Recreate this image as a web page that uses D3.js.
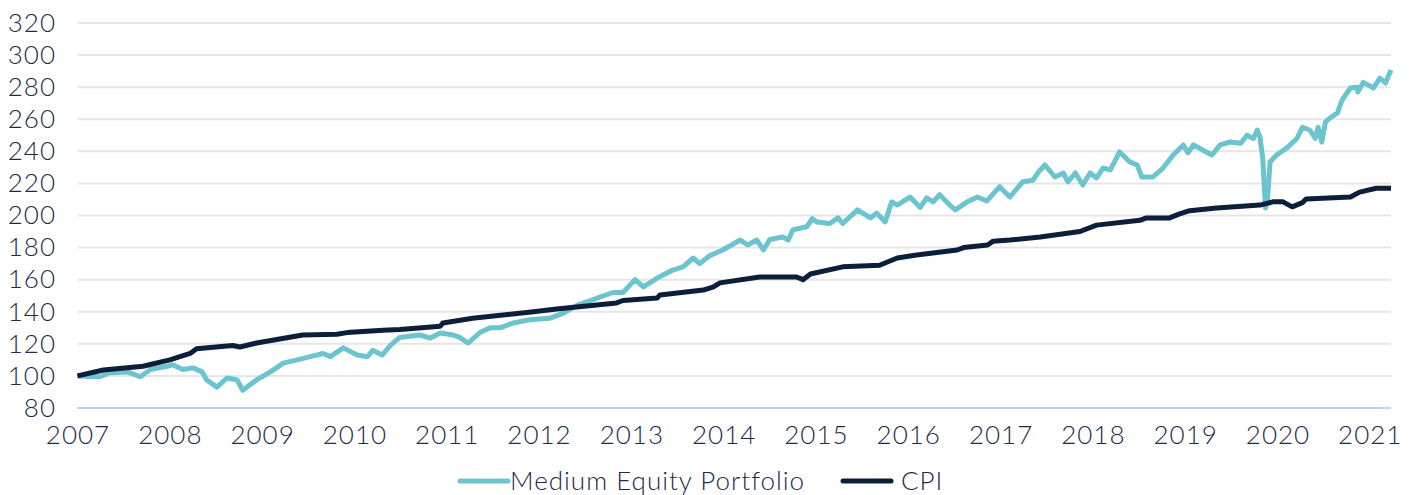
<!DOCTYPE html>
<html>
<head>
<meta charset="utf-8">
<script src="https://cdn.jsdelivr.net/npm/d3@7"></script>
<style>
  body { margin: 0; background: #ffffff; }
  svg text { font-family: Lato, "Open Sans", sans-serif; font-weight: 300; letter-spacing: 1px; fill: #1b2b48; }
</style>
</head>
<body>
<svg id="chart" width="1416" height="495"></svg>
<script>
// Axis ticks
const yTicks = [80, 100, 120, 140, 160, 180, 200, 220, 240, 260, 280, 300, 320];
const xTicks = [2007, 2008, 2009, 2010, 2011, 2012, 2013, 2014, 2015, 2016, 2017, 2018, 2019, 2020, 2021];

// Medium Equity Portfolio (decimal year, index value)
const portfolioYears = [
  2007.00, 2007.24, 2007.35, 2007.54, 2007.68, 2007.79, 2007.97, 2008.03, 2008.14, 2008.25,
  2008.35, 2008.40, 2008.51, 2008.62, 2008.73, 2008.79, 2008.94, 2009.09, 2009.23, 2009.38,
  2009.52, 2009.66, 2009.74, 2009.88, 2010.03, 2010.14, 2010.20, 2010.30, 2010.39, 2010.49,
  2010.71, 2010.82, 2010.93, 2011.07, 2011.14, 2011.23, 2011.36, 2011.47, 2011.58, 2011.72,
  2011.90, 2012.12, 2012.26, 2012.41, 2012.63, 2012.80, 2012.91, 2013.04, 2013.13, 2013.28,
  2013.45, 2013.56, 2013.67, 2013.74, 2013.85, 2013.99, 2014.18, 2014.26, 2014.36, 2014.43,
  2014.50, 2014.64, 2014.70, 2014.75, 2014.90, 2014.96, 2015.01, 2015.15, 2015.24, 2015.29,
  2015.45, 2015.59, 2015.66, 2015.75, 2015.82, 2015.88, 2016.02, 2016.13, 2016.20, 2016.27,
  2016.34, 2016.45, 2016.51, 2016.64, 2016.75, 2016.85, 2016.99, 2017.10, 2017.24, 2017.35,
  2017.41, 2017.48, 2017.59, 2017.68, 2017.73, 2017.81, 2017.89, 2017.97, 2018.04, 2018.11,
  2018.19, 2018.29, 2018.40, 2018.48, 2018.53, 2018.65, 2018.76, 2018.87, 2018.98, 2019.03,
  2019.09, 2019.19, 2019.29, 2019.38, 2019.49, 2019.60, 2019.67, 2019.74, 2019.78, 2019.81,
  2019.84, 2019.87, 2019.89, 2019.92, 2019.99, 2020.10, 2020.21, 2020.27, 2020.35, 2020.41,
  2020.44, 2020.48, 2020.52, 2020.57, 2020.65, 2020.70, 2020.79, 2020.86, 2020.87, 2020.93,
  2021.04, 2021.11, 2021.17, 2021.23
];
const portfolioValues = [
  100, 99.5, 102, 102.5, 99.5, 104, 106, 107, 104, 105,
  102.5, 97.5, 93, 98.7, 97.5, 91, 97.5, 102.5, 108, 110,
  112, 114, 112, 117.5, 113, 112, 116, 113, 119, 124,
  125.5, 123.6, 126.8, 125.5, 124, 120.5, 127, 130, 130, 133,
  135, 136, 139, 144, 148.5, 152, 152, 160, 155.5, 161,
  166, 168, 173.5, 170, 175, 178.5, 184.7, 181.6, 184.7, 178.5,
  185, 186.6, 184.7, 191, 193, 198, 196, 195, 198.5, 195,
  203.5, 198.5, 201.5, 196, 208.5, 206.5, 211.5, 205, 211, 208.5,
  213, 206.5, 203.5, 208.5, 211.5, 209, 218, 211.5, 221, 222,
  227, 231.5, 224, 226.5, 221, 226.5, 219, 226.5, 223.4, 229.6,
  228.4, 239.6, 233.4, 231.5, 224, 224, 229.6, 237.7, 244, 239,
  244, 240.8, 237.7, 244, 245.8, 245, 250, 248, 253.3, 249,
  235.8, 204.7, 208.4, 233.4, 237.7, 242, 248, 255, 253.3, 248,
  255, 245.8, 258.3, 260.8, 264, 272, 279.5, 280, 277, 283,
  279.5, 285.7, 282.6, 290.7
];

// CPI (decimal year, index value)
const cpiYears = [
  2007.00, 2007.28, 2007.71, 2008.00, 2008.22, 2008.29, 2008.68, 2008.76, 2008.94, 2009.44,
  2009.81, 2009.92, 2010.31, 2010.49, 2010.93, 2010.96, 2011.28, 2011.94, 2012.19, 2012.84,
  2012.91, 2013.28, 2013.31, 2013.78, 2013.89, 2013.96, 2014.39, 2014.79, 2014.86, 2014.94,
  2015.29, 2015.69, 2015.88, 2016.09, 2016.31, 2016.53, 2016.60, 2016.86, 2016.92, 2017.10,
  2017.43, 2017.86, 2018.04, 2018.51, 2018.58, 2018.83, 2018.94, 2019.05, 2019.34, 2019.81,
  2019.95, 2020.06, 2020.16, 2020.27, 2020.31, 2020.79, 2020.89, 2021.07, 2021.23
];
const cpiValues = [
  100, 103.7, 106, 110, 114, 117, 119, 118, 120.5, 125.5,
  126, 127, 128.5, 129, 131, 133, 136, 140, 141.7, 145.5,
  147, 148.5, 150.5, 153.5, 155.5, 158, 161.7, 161.7, 160, 163.5,
  168, 169, 173.5, 175.4, 177, 178.5, 180, 181.6, 184, 184.7,
  186.6, 190, 194, 197, 198.5, 198.5, 201, 203, 204.7, 206.5,
  208.5, 208.5, 205.4, 208, 210.3, 211.5, 214.6, 217, 217
];

const seriesNames = ['Medium Equity Portfolio', 'CPI'];
const seriesColors = ['#6cc4cf', '#0c1e3a'];

const svg = d3.select('#chart');

// Scales
const x = d3.scaleLinear()
  .domain([2007, 2021.23])
  .range([77.5, 1391]);

const y = d3.scaleLinear()
  .domain([80, 320])
  .range([408, 23]);

// Gridlines
svg.append('g')
  .selectAll('line')
  .data(yTicks.filter(d => d > 80))
  .join('line')
  .attr('x1', x.range()[0])
  .attr('x2', x.range()[1])
  .attr('y1', d => y(d))
  .attr('y2', d => y(d))
  .attr('stroke', '#e6e6e6')
  .attr('stroke-width', 2);

// Bottom axis line
svg.append('line')
  .attr('x1', x.range()[0])
  .attr('x2', x.range()[1])
  .attr('y1', y(80))
  .attr('y2', y(80))
  .attr('stroke', '#bcd2e8')
  .attr('stroke-width', 2);

// Y axis labels
const yAxis = svg.append('g')
  .attr('transform', 'translate(56,0)')
  .call(d3.axisLeft(y).tickValues(yTicks).tickSize(0).tickPadding(0));
yAxis.select('.domain').remove();
yAxis.selectAll('text')
  .attr('font-size', 26)
  .attr('font-family', null);

// X axis labels
const xAxis = svg.append('g')
  .attr('transform', `translate(0,${y(80)})`)
  .call(d3.axisBottom(x).tickValues(xTicks).tickFormat(d3.format('d')).tickSize(0).tickPadding(18));
xAxis.select('.domain').remove();
xAxis.selectAll('text')
  .attr('font-size', 26)
  .attr('font-family', null);

// Lines
const line = d3.line()
  .x(d => x(d[0]))
  .y(d => y(d[1]));

const portfolio = portfolioYears.map((d, i) => [d, portfolioValues[i]]);
const cpi = cpiYears.map((d, i) => [d, cpiValues[i]]);

svg.append('path')
  .datum(portfolio)
  .attr('d', line)
  .attr('fill', 'none')
  .attr('stroke', seriesColors[0])
  .attr('stroke-width', 5)
  .attr('stroke-linejoin', 'round');

svg.append('path')
  .datum(cpi)
  .attr('d', line)
  .attr('fill', 'none')
  .attr('stroke', seriesColors[1])
  .attr('stroke-width', 5)
  .attr('stroke-linejoin', 'round');

// Legend
const legendX = [460, 843];
const legend = svg.append('g')
  .selectAll('g')
  .data(seriesNames)
  .join('g')
  .attr('transform', (d, i) => `translate(${legendX[i]},481)`);

legend.append('line')
  .attr('x1', 0)
  .attr('x2', 48)
  .attr('stroke', (d, i) => seriesColors[i])
  .attr('stroke-width', 5)
  .attr('stroke-linecap', 'round');

legend.append('text')
  .attr('x', (d, i) => i === 0 ? 50 : 58)
  .attr('dy', '0.36em')
  .attr('font-size', 26)
  .text(d => d);
</script>
</body>
</html>
